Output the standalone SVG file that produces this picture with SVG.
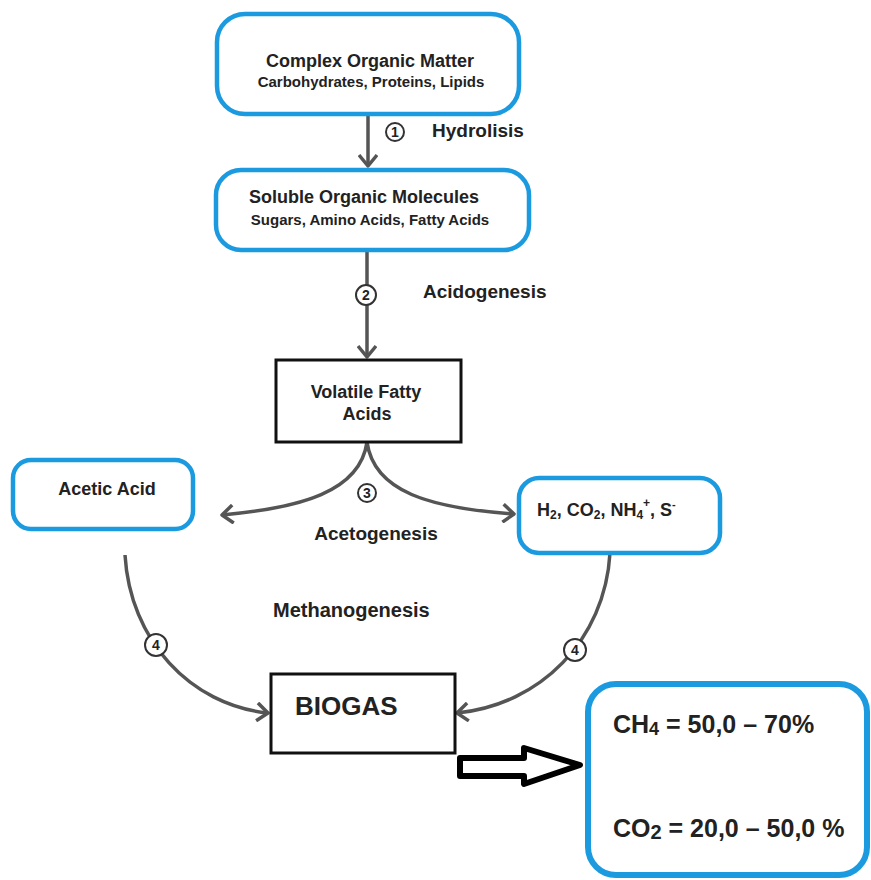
<svg xmlns="http://www.w3.org/2000/svg" width="871" height="880" viewBox="0 0 871 880">
<defs>
<style>
.bb{fill:#fff;stroke:#1b9ae0;stroke-width:4.5}
.kb{fill:#fff;stroke:#111;stroke-width:3}
.t{font-family:"Liberation Sans",Arial,sans-serif;font-weight:bold;fill:#222}
.c{fill:none;stroke:#555;stroke-width:3.5}
.num{fill:#fff;stroke:#333;stroke-width:2}
.nt{font-family:"Liberation Sans",Arial,sans-serif;font-weight:bold;font-size:14px;fill:#222;text-anchor:middle}
</style>
<marker id="ah" markerWidth="16" markerHeight="20" refX="13" refY="10" orient="auto" markerUnits="userSpaceOnUse">
<path d="M2,1 L13,10 L2,19" fill="none" stroke="#555" stroke-width="3.5" stroke-linejoin="round"/>
</marker>
</defs>
<rect width="871" height="880" fill="#fff"/>

<g id="connectors">
<path class="c" d="M368,115 L368,166" marker-end="url(#ah)"/>
<path class="c" d="M367,252 L367,357" marker-end="url(#ah)"/>
<path class="c" d="M367,442 C360,492 300,508 222,515" marker-end="url(#ah)"/>
<path class="c" d="M367,442 C374,492 430,508 514,514" marker-end="url(#ah)"/>
<path class="c" d="M125,555 C130,640 190,705 268,713" marker-end="url(#ah)"/>
<path class="c" d="M610,553 C605,640 540,705 457,713" marker-end="url(#ah)"/>
<polygon points="460,758 524,758 524,748 580,765 524,784 524,776 460,776" fill="#fff" stroke="#000" stroke-width="6" stroke-linejoin="round"/>
</g>

<g id="labels">
<circle class="num" cx="395" cy="132" r="9"/><text class="nt" x="395" y="137">1</text>
<text class="t" x="432" y="137" font-size="19">Hydrolisis</text>
<circle class="num" cx="366" cy="295" r="10"/><text class="nt" x="366" y="300">2</text>
<text class="t" x="423" y="298" font-size="19">Acidogenesis</text>
<circle class="num" cx="367" cy="493" r="9"/><text class="nt" x="367" y="498">3</text>
<text class="t" x="376" y="540" font-size="19" text-anchor="middle">Acetogenesis</text>
<text class="t" x="273" y="617" font-size="20">Methanogenesis</text>
<circle class="num" cx="156" cy="645" r="11"/><text class="nt" x="156" y="650">4</text>
<circle class="num" cx="575" cy="650" r="11"/><text class="nt" x="575" y="655">4</text>
</g>

<g id="complex">
<rect class="bb" x="217" y="14" width="302" height="100" rx="28"/>
<text class="t" x="370" y="67" font-size="18" text-anchor="middle">Complex Organic Matter</text>
<text class="t" x="371" y="87" font-size="15" text-anchor="middle">Carbohydrates, Proteins, Lipids</text>
</g>

<g id="soluble">
<rect class="bb" x="216" y="170" width="313" height="80" rx="25"/>
<text class="t" x="364" y="203" font-size="18" text-anchor="middle">Soluble Organic Molecules</text>
<text class="t" x="370" y="225" font-size="15" text-anchor="middle">Sugars, Amino Acids, Fatty Acids</text>
</g>

<g id="vfa">
<rect class="kb" x="276" y="360" width="185" height="82"/>
<text class="t" x="366" y="398" font-size="18" text-anchor="middle">Volatile Fatty</text>
<text class="t" x="367" y="420" font-size="18" text-anchor="middle">Acids</text>
</g>

<g id="acetic">
<rect class="bb" x="13" y="460" width="180" height="69" rx="18"/>
<text class="t" x="107" y="495" font-size="18" text-anchor="middle">Acetic Acid</text>
</g>

<g id="gases">
<rect class="bb" x="519" y="478" width="201" height="75" rx="20"/>
<text class="t" x="537" y="516" font-size="18">H<tspan font-size="12" dy="3">2</tspan><tspan dy="-3">, CO</tspan><tspan font-size="12" dy="3">2</tspan><tspan dy="-3">, NH</tspan><tspan font-size="12" dy="3">4</tspan><tspan font-size="12" dy="-12">+</tspan><tspan dy="9">, S</tspan><tspan font-size="11" dy="-8">-</tspan></text>
</g>

<g id="biogas">
<rect class="kb" x="271" y="674" width="184" height="79"/>
<text class="t" x="295" y="715" font-size="26" fill="#111">BIOGAS</text>
</g>

<g id="composition">
<rect x="588" y="684" width="279" height="191" rx="28" fill="#fff" stroke="#1b9ae0" stroke-width="6"/>
<text class="t" x="613" y="733" font-size="25" fill="#111">CH<tspan font-size="18" dy="2">4</tspan><tspan dy="-2"> = 50,0 – 70%</tspan></text>
<text class="t" x="613" y="837" font-size="25" fill="#111">CO<tspan font-size="20" dy="2">2</tspan><tspan dy="-2"> = 20,0 – 50,0 %</tspan></text>
</g>
</svg>
